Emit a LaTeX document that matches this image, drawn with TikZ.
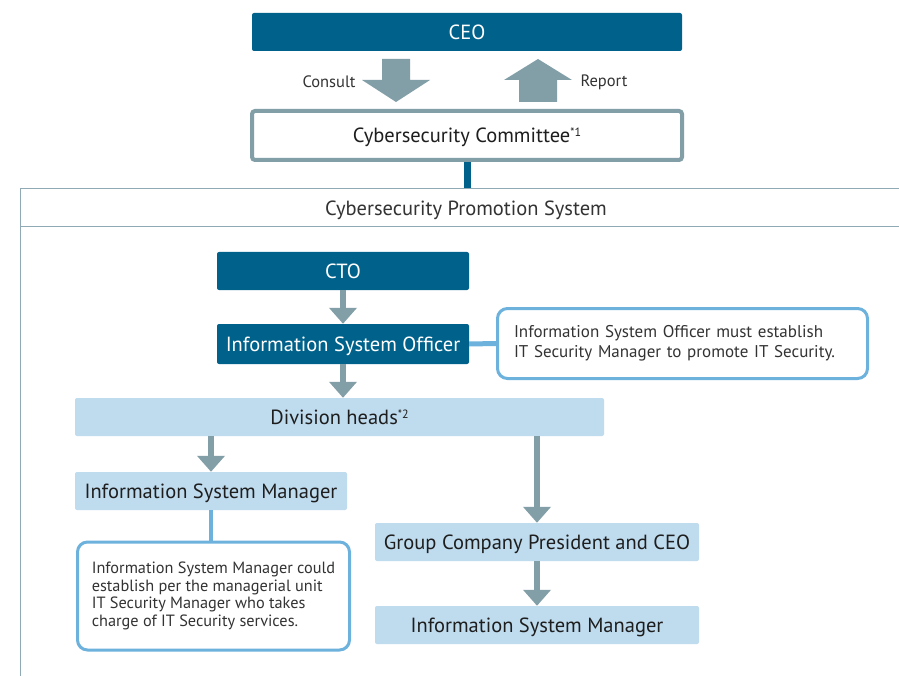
\documentclass[tikz,border=0pt]{standalone}
\usepackage{fontspec}
\setmainfont{PT Sans}
\usetikzlibrary{arrows.meta}
\definecolor{dteal}{HTML}{00618A}
\definecolor{garrow}{HTML}{829FA8}
\definecolor{lblue}{HTML}{BFDBEE}
\definecolor{nblue}{HTML}{6CB2DC}
\definecolor{framec}{HTML}{8FAAB4}
\definecolor{txt}{HTML}{1E1E1E}
\definecolor{ntxt}{HTML}{333333}
\newcommand{\supmark}[1]{\raisebox{0.6ex}{\fontsize{12}{12}\selectfont #1}}
\begin{document}
\begin{tikzpicture}[x=1pt,y=-1pt,
  lbl/.style={font=\fontsize{20.5}{24}\selectfont, text depth=0pt},
  darkbox/.style={fill=dteal, text=white, rounded corners=2pt, minimum height=38pt, inner sep=0pt, lbl},
  lightbox/.style={fill=lblue, text=txt, rounded corners=2pt, minimum height=38pt, inner sep=0pt, lbl},
  notebox/.style={draw=nblue, line width=3pt, fill=white, rounded corners=10pt, text=ntxt, align=left, inner ysep=0pt},
  garr/.style={draw=garrow, line width=6pt, -{Triangle[width=27pt,length=16pt]}},
  blockarrow/.style={fill=garrow},
  small/.style={font=\fontsize{16.5}{19}\selectfont, text=ntxt}
]
\useasboundingbox[fill=white] (0,0) rectangle (899,676);

% CEO and committee
\node[darkbox, minimum width=430pt] (ceo) at (467,32) {CEO};
\node[draw=garrow, line width=4pt, fill=white, rounded corners=3pt, minimum width=430pt, minimum height=49pt, inner sep=0pt, text=txt, lbl] (comm) at (467,135.5) {Cybersecurity Committee\supmark{*1}};

% block arrows
\fill[blockarrow] (382,59) -- (410,59) -- (410,80) -- (430,80) -- (396,102) -- (362,80) -- (382,80) -- cycle;
\fill[blockarrow] (519,102) -- (557,102) -- (557,80) -- (572,80) -- (538,59) -- (504,80) -- (519,80) -- cycle;
\node[small, anchor=east] (consult) at (359,82) {Consult};
\node[small, anchor=west] (report) at (577,82) {Report};

% frame
\coordinate (ftop) at (466,188);
\draw[framec, line width=0.8pt] (20,676) -- (20,188) -- (899,188);
\draw[framec, line width=0.8pt] (20,226) -- (899,226);
\draw[dteal, line width=7pt] (comm.south) -- (comm.south |- ftop);
\node[font=\fontsize{20.5}{24}\selectfont, text=ntxt, text depth=0pt] (cps) at (466,208) {Cybersecurity Promotion System};

% chain
\node[darkbox, minimum width=252pt] (cto) at (343,271) {CTO};
\node[darkbox, minimum width=252pt, minimum height=40pt] (iso) at (343,344) {Information System Officer};
\node[notebox, font=\fontsize{17}{20}\selectfont, minimum width=370pt, minimum height=70pt, text width=337pt, inner xsep=16.5pt] (note1) at (682.5,343.5) {Information System Officer must establish\\IT Security Manager to promote IT Security.};
\node[lightbox, minimum width=529pt] (div) at (339.5,417) {Division heads\supmark{*2}};
\node[lightbox, minimum width=272pt] (ism1) at (211,491) {Information System Manager};
\node[notebox, font=\fontsize{16.3}{17.5}\selectfont, minimum width=272pt, minimum height=108pt, inner xsep=8pt] (note2) at (213.5,596) {Information System Manager could\\establish per the managerial unit\\IT Security Manager who takes\\charge of IT Security services.};
\node[lightbox, minimum width=324pt] (grp) at (537,542) {Group Company President and CEO};
\node[lightbox, minimum width=324pt] (ism2) at (537,625) {Information System Manager};

% connectors
\draw[garr] (cto.south) -- (iso.north);
\draw[garr] (iso.south) -- (iso.south |- div.north);
\draw[garr] (div.south -| ism1.north) -- (ism1.north);
\draw[garr] (div.south -| grp.north) -- (grp.north);
\draw[garr] (grp.south) -- (ism2.north);
\draw[nblue, line width=5pt] (iso.east) -- (note1.west);
\draw[nblue, line width=4pt] (ism1.south) -- (ism1.south |- note2.north);
\end{tikzpicture}
\end{document}
